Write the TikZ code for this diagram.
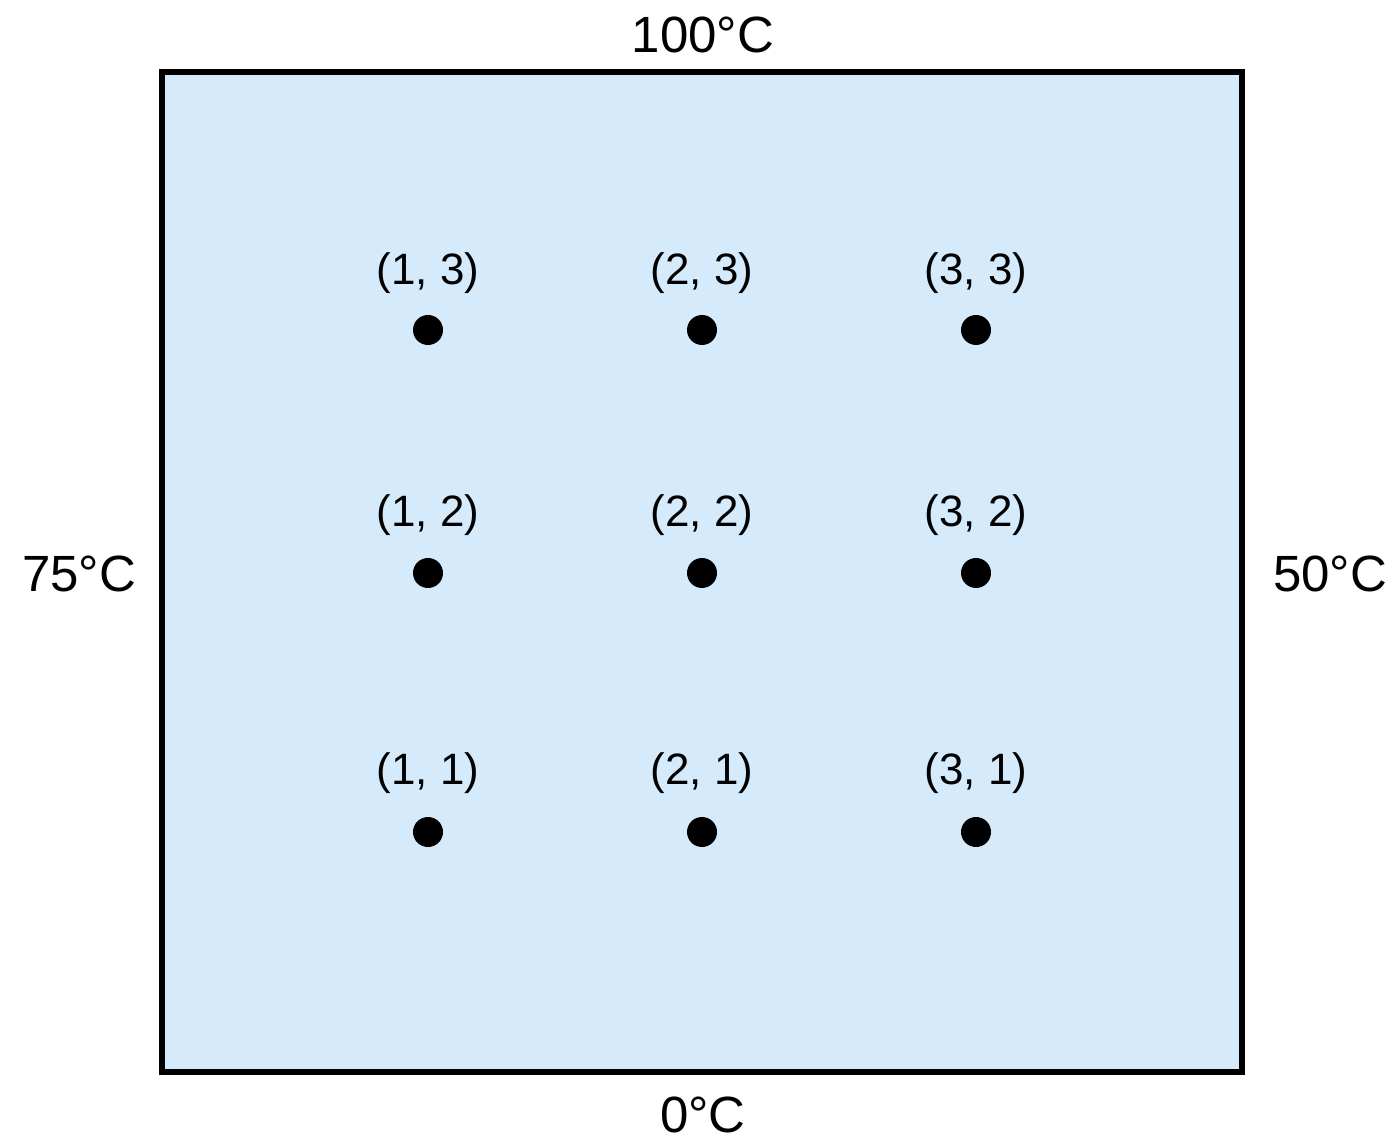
\documentclass[tikz,border=0pt]{standalone}
\usepackage{fontspec}
\setmainfont{Liberation Sans}
\usepackage{tikz}
\usepackage{xcolor}
\definecolor{plateblue}{RGB}{213,234,250}

\begin{document}
\begin{tikzpicture}[font=\fontsize{12.5pt}{14pt}\selectfont,
	pt/.style={circle, fill=black, inner sep=0pt, minimum size=0.30cm},
	temp/.style={font=\fontsize{14.5pt}{16pt}\selectfont}]
	\useasboundingbox (0,0) rectangle (13.98,11.46);
	
	% ---- plate ----
	\node[draw=black, line width=1.5pt, fill=plateblue, inner sep=0pt,
	minimum width=10.80cm, minimum height=10.00cm] (P) at (7.02,5.74) {};
	
	% ---- boundary temperatures ----
	\node[temp] (top) at (7.03,11.11) {100°C};
	\node[temp] (bot) at (7.03,0.31) {0°C};
	\node[temp] (lft) at (0.79,5.72) {75°C};
	\node[temp] (rgt) at (13.30,5.72) {50°C};
	
	% ---- row 3 ----
	\node[pt] (p13) at (4.28,8.16) {};
	\node[pt] (p23) at (7.02,8.16) {};
	\node[pt] (p33) at (9.76,8.16) {};
	\node (l13) at (4.28,8.73) {(1, 3)};
	\node (l23) at (7.02,8.73) {(2, 3)};
	\node (l33) at (9.76,8.73) {(3, 3)};
	
	% ---- row 2 ----
	\node[pt] (p12) at (4.28,5.73) {};
	\node[pt] (p22) at (7.02,5.73) {};
	\node[pt] (p32) at (9.76,5.73) {};
	\node (l12) at (4.28,6.31) {(1, 2)};
	\node (l22) at (7.02,6.31) {(2, 2)};
	\node (l32) at (9.76,6.31) {(3, 2)};
	
	% ---- row 1 ----
	\node[pt] (p11) at (4.28,3.14) {};
	\node[pt] (p21) at (7.02,3.14) {};
	\node[pt] (p31) at (9.76,3.14) {};
	\node (l11) at (4.28,3.73) {(1, 1)};
	\node (l21) at (7.02,3.73) {(2, 1)};
	\node (l31) at (9.76,3.73) {(3, 1)};
	
\end{tikzpicture}
\end{document}
